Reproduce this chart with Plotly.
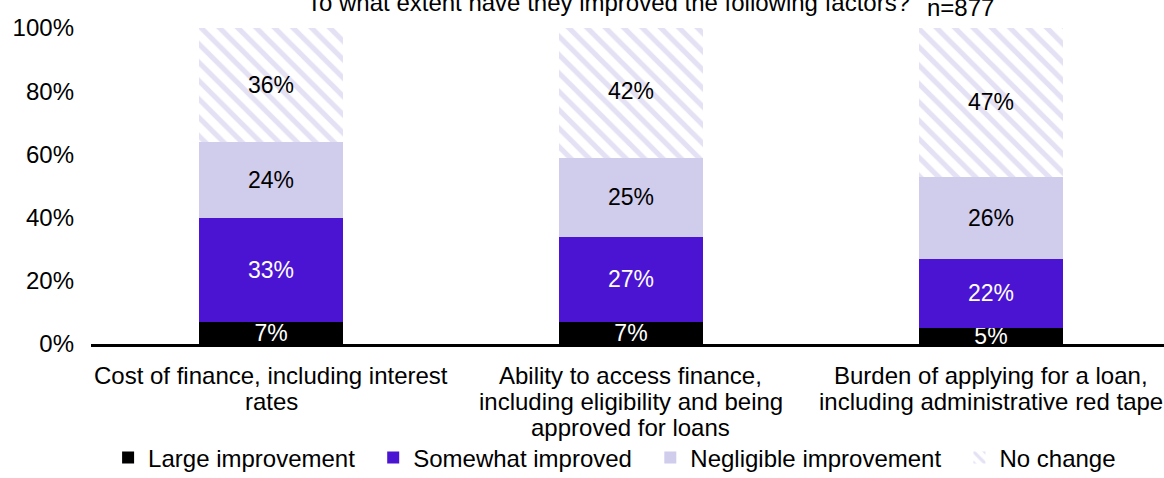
import plotly.graph_objects as go

# Survey: to what extent have financing conditions improved (n=877)
categories = [
    "Cost of finance, including interest<br>rates",
    "Ability to access finance,<br>including eligibility and being<br>approved for loans",
    "Burden of applying for a loan,<br>including administrative red tape",
]
series_names = ["Large improvement", "Somewhat improved", "Negligible improvement", "No change"]
large_improvement = [7, 7, 5]
somewhat_improved = [33, 27, 22]
negligible_improvement = [24, 25, 26]
no_change = [36, 42, 47]
y_ticks = [0, 20, 40, 60, 80, 100]

FONT = "Liberation Sans, Arial, sans-serif"
PURPLE = "#4B14D2"
LAVENDER = "#D0CCEC"
LABEL_SIZE = 24
LINE_STEP = 26  # spacing between wrapped category label lines, px
LEGEND_PAD = "\u00a0\u00a0"  # extra room between legend entries

fig = go.Figure()

styles = [
    dict(marker=dict(color="#000000"), textfont=dict(color="#FFFFFF")),
    dict(marker=dict(color=PURPLE), textfont=dict(color="#FFFFFF")),
    dict(marker=dict(color=LAVENDER), textfont=dict(color="#000000")),
    dict(
        marker=dict(
            color="#FFFFFF",
            pattern=dict(shape="\\", fgcolor="#C9C4EA", bgcolor="#FFFFFF",
                         size=13, solidity=0.4, fillmode="overlay"),
        ),
        textfont=dict(color="#000000"),
    ),
]

all_values = [large_improvement, somewhat_improved, negligible_improvement, no_change]
for idx, (name, values, style) in enumerate(zip(series_names, all_values, styles)):
    legend_name = name + (LEGEND_PAD if idx < len(series_names) - 1 else "")
    fig.add_trace(go.Bar(
        name=legend_name,
        x=categories,
        y=values,
        width=0.4,
        marker=dict(line=dict(width=0), **style["marker"]),
        text=[f"{v}%" for v in values],
        texttemplate="%{text}",
        textposition="inside",
        insidetextanchor="middle",
        constraintext="none",
        textangle=0,
        textfont=dict(family=FONT, size=23, **style["textfont"]),
    ))

# Category labels, one annotation per wrapped line for tighter line spacing
annotations = []
for cat in categories:
    for i, line in enumerate(cat.split("<br>")):
        annotations.append(dict(
            text=line, xref="x", yref="paper", x=cat, y=0,
            xanchor="center", yanchor="top",
            yshift=-16 - i * LINE_STEP, showarrow=False,
            font=dict(family=FONT, size=LABEL_SIZE),
        ))

annotations += [
    dict(text="To what extent have they improved the following factors?",
         xref="paper", yref="paper", x=0.482, y=1, xanchor="center",
         yanchor="bottom", yshift=10, showarrow=False,
         font=dict(family=FONT, size=LABEL_SIZE)),
    dict(text="n=877",
         xref="paper", yref="paper", x=0.81, y=1, xanchor="center",
         yanchor="bottom", yshift=5, showarrow=False,
         font=dict(family=FONT, size=LABEL_SIZE)),
]

fig.update_layout(
    barmode="stack",
    width=1164,
    height=478,
    margin=dict(l=91, r=0, t=28, b=134),
    paper_bgcolor="#FFFFFF",
    plot_bgcolor="#FFFFFF",
    font=dict(family=FONT, size=LABEL_SIZE, color="#000000"),
    showlegend=True,
    legend=dict(
        orientation="h",
        xref="container", yref="container",
        x=0.528, xanchor="center",
        y=1 - 458 / 478, yanchor="middle",
        font=dict(family=FONT, size=LABEL_SIZE, color="#000000"),
        itemwidth=30,
        traceorder="normal",
    ),
    xaxis=dict(
        range=[-0.5, 2.4806],
        showline=True,
        linecolor="#000000",
        linewidth=3,
        showgrid=False,
        ticks="",
        showticklabels=False,
    ),
    yaxis=dict(
        range=[0, 100],
        tickvals=y_ticks,
        ticktext=[f"{t}%" for t in y_ticks],
        showgrid=False,
        zeroline=False,
        showline=False,
        ticks="",
        ticklabelstandoff=16,
        tickfont=dict(family=FONT, size=LABEL_SIZE),
    ),
    annotations=annotations,
)

fig.write_html("out.html")
